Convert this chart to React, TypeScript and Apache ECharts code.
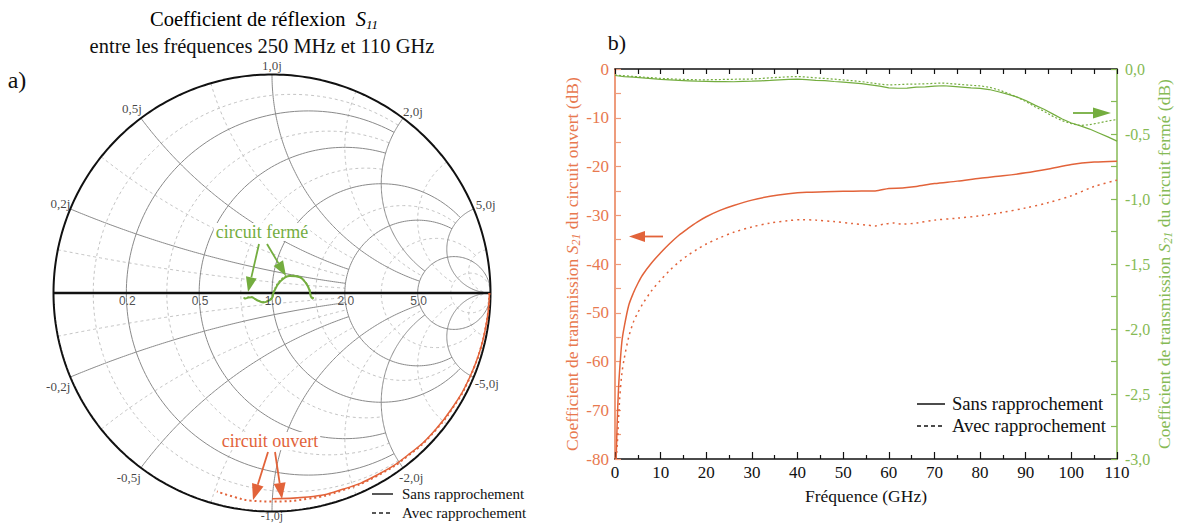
import React, { useEffect, useRef } from 'react';
import * as echarts from 'echarts';

const SERIF = "'Liberation Serif', 'Times New Roman', serif";
const SANS = "'Liberation Sans', Arial, sans-serif";
const ORANGE = '#E2633A';
const ORANGE_LABEL = '#E8794F';
const ORANGE_AXIS = '#EE9C7C';
const GREEN = '#74AD3F';
const GREEN_LABEL = '#86BA55';
const GRID_SOLID = '#8a8a8a';
const GRID_DASH = '#c4c4c4';

// ---------- Smith chart grid values ----------
const R_MAJOR = [0.2, 0.5, 1, 2, 5];
const X_MAJOR = [0.2, 0.5, 1, 2, 5];
const R_MINOR = [0.1, 0.35, 0.75, 1.5, 3, 10];
const X_MINOR = [0.1, 0.35, 0.75, 1.5, 3, 10];
const REAL_LABELS = ['0.2', '0.5', '1.0', '2.0', '5.0'];
const IMAG_LABELS_POS = ['0,2j', '0,5j', '1,0j', '2,0j', '5,0j'];
const IMAG_LABELS_NEG = ['-0,2j', '-0,5j', '-1,0j', '-2,0j', '-5,0j'];

// ---------- Smith chart traces (S11) ----------
// circuit ouvert: polar (angle in degrees, |S11|)
const openSansAngle = [0, -5, -10, -15, -20, -25, -30, -40, -50, -60, -70, -80, -90];
const openSansMag = [0.995, 0.993, 0.99, 0.988, 0.985, 0.983, 0.98, 0.975, 0.968, 0.962, 0.955, 0.948, 0.942];
const openAvecAngle = [0, -5, -10, -15, -20, -25, -30, -40, -50, -60, -70, -80, -90, -96, -100, -105.5];
const openAvecMag = [0.995, 0.993, 0.99, 0.988, 0.986, 0.984, 0.982, 0.977, 0.971, 0.965, 0.959, 0.956, 0.954, 0.955, 0.95, 0.943];
// circuit fermé: real / imaginary parts of S11
const closedSansRe = [-0.127, -0.093, -0.070, -0.040, -0.009, 0.003, 0.006, 0.037, 0.082, 0.128, 0.156, 0.171, 0.178, 0.189];
const closedSansIm = [-0.027, -0.020, -0.032, -0.043, -0.032, -0.017, -0.001, 0.052, 0.078, 0.072, 0.044, 0.014, -0.017, -0.027];
const closedAvecRe = [-0.131, -0.096, -0.072, -0.042, -0.011, 0.001, 0.005, 0.035, 0.080, 0.126, 0.155, 0.172, 0.180, 0.192];
const closedAvecIm = [-0.024, -0.018, -0.030, -0.041, -0.030, -0.015, 0.001, 0.055, 0.081, 0.075, 0.047, 0.016, -0.015, -0.024];

// ---------- S21 chart ----------
const freqOpenSans = [0.25, 0.5, 0.75, 1, 1.5, 2, 3, 4, 5, 6, 8, 10, 12, 14, 16, 18, 20, 23, 26, 30, 34, 38, 42, 46, 50, 54, 57, 60, 63, 66, 70, 75, 80, 85, 90, 95, 100, 105, 110];
const s21OpenSans = [-80, -72, -66, -62, -56, -53, -48.5, -46, -44, -42.3, -39.8, -37.7, -35.8, -34.1, -32.7, -31.4, -30.3, -29.0, -28.0, -26.9, -26.1, -25.6, -25.3, -25.2, -25.1, -25.0, -25.0, -24.5, -24.4, -24.1, -23.5, -23.0, -22.4, -21.9, -21.3, -20.5, -19.6, -19.1, -18.9];
const freqOpenAvec = [0.25, 0.5, 1, 1.5, 2, 3, 4, 5, 6, 8, 10, 12, 14, 16, 18, 20, 23, 26, 30, 34, 38, 41, 44, 48, 52, 55, 57, 59, 61, 63, 66, 70, 75, 80, 85, 90, 95, 100, 105, 110];
const s21OpenAvec = [-80, -77, -68, -62.5, -59.5, -55, -52, -50, -48.3, -45.5, -43.3, -41.3, -39.6, -38.2, -37, -35.9, -34.6, -33.5, -32.4, -31.6, -31.1, -30.9, -31.0, -31.3, -31.7, -32.0, -32.2, -31.8, -31.6, -31.8, -31.6, -31.0, -30.6, -30.1, -29.4, -28.5, -27.4, -26.0, -24.1, -22.8];
const freqClosed = [0, 2, 4, 6, 8, 10, 12, 14, 16, 18, 20, 22, 24, 26, 28, 30, 32, 34, 36, 38, 40, 42, 44, 46, 48, 50, 52, 54, 56, 58, 60, 62, 64, 66, 68, 70, 72, 74, 76, 78, 80, 82, 84, 86, 88, 90, 92, 94, 96, 98, 100, 102, 104, 106, 108, 110];
const s21ClosedSans = [-0.050, -0.058, -0.062, -0.068, -0.074, -0.080, -0.084, -0.088, -0.091, -0.094, -0.095, -0.097, -0.096, -0.098, -0.095, -0.094, -0.091, -0.088, -0.084, -0.080, -0.078, -0.082, -0.087, -0.090, -0.096, -0.101, -0.106, -0.112, -0.122, -0.132, -0.145, -0.148, -0.147, -0.140, -0.137, -0.132, -0.129, -0.134, -0.139, -0.145, -0.149, -0.158, -0.175, -0.193, -0.214, -0.242, -0.278, -0.310, -0.347, -0.385, -0.415, -0.438, -0.462, -0.492, -0.522, -0.555];
const s21ClosedAvec = [-0.046, -0.052, -0.057, -0.062, -0.067, -0.072, -0.076, -0.079, -0.081, -0.083, -0.083, -0.082, -0.080, -0.079, -0.078, -0.077, -0.073, -0.068, -0.064, -0.060, -0.058, -0.062, -0.068, -0.073, -0.078, -0.084, -0.090, -0.097, -0.106, -0.116, -0.123, -0.120, -0.117, -0.116, -0.114, -0.110, -0.108, -0.114, -0.120, -0.125, -0.130, -0.140, -0.160, -0.185, -0.215, -0.250, -0.290, -0.325, -0.365, -0.398, -0.420, -0.435, -0.428, -0.415, -0.400, -0.388];

// ---------- Smith geometry helpers ----------
function gammaOf(r: number, x: number): [number, number] {
  const D = (r + 1) * (r + 1) + x * x;
  return [(r * r - 1 + x * x) / D, (2 * x) / D];
}
function rLimit(r: number) {
  return r < 1 ? 2 : r <= 2 ? 5 : r < 5 ? 10 : Infinity;
}
function xLimit(x: number) {
  const a = Math.abs(x);
  return a < 1 ? 2 : a <= 2 ? 5 : a < 5 ? 10 : Infinity;
}
function rCircle(r: number): number[][] {
  const c = r / (1 + r);
  const rho = 1 / (1 + r);
  const xmax = rLimit(r);
  let phiLim = 0;
  if (isFinite(xmax)) {
    const g = gammaOf(r, xmax);
    phiLim = Math.atan2(g[1], g[0] - c);
  }
  const pts: number[][] = [];
  const N = 160;
  for (let i = 0; i <= N; i++) {
    const phi = phiLim + ((2 * Math.PI - 2 * phiLim) * i) / N;
    pts.push([c + rho * Math.cos(phi), rho * Math.sin(phi)]);
  }
  return pts;
}
function xArc(x: number): number[][] {
  const ax = Math.abs(x);
  const sgn = x < 0 ? -1 : 1;
  const cy = 1 / ax;
  const rho = 1 / ax;
  const norm = (a: number) => (a < 0 ? a + 2 * Math.PI : a);
  const g0 = gammaOf(0, ax);
  const p0 = norm(Math.atan2(g0[1] - cy, g0[0] - 1));
  const rmax = xLimit(ax);
  let p1 = 1.5 * Math.PI;
  if (isFinite(rmax)) {
    const g1 = gammaOf(rmax, ax);
    p1 = norm(Math.atan2(g1[1] - cy, g1[0] - 1));
  }
  const pts: number[][] = [];
  const N = 140;
  for (let i = 0; i <= N; i++) {
    const p = p0 + ((p1 - p0) * i) / N;
    pts.push([1 + rho * Math.cos(p), sgn * (cy + rho * Math.sin(p))]);
  }
  return pts;
}

function gridSeries(data: number[][], dashed: boolean) {
  return {
    type: 'line',
    xAxisIndex: 0,
    yAxisIndex: 0,
    data,
    symbol: 'none',
    silent: true,
    clip: false,
    z: 1,
    lineStyle: dashed
      ? { color: GRID_DASH, width: 1, type: [3, 3] }
      : { color: GRID_SOLID, width: 1, type: 'solid' },
  };
}

function arrow(x1: number, y1: number, x2: number, y2: number, color: string, len: number, half: number, lw: number) {
  const dx = x2 - x1;
  const dy = y2 - y1;
  const L = Math.sqrt(dx * dx + dy * dy);
  const ux = dx / L;
  const uy = dy / L;
  const bx = x2 - ux * len;
  const by = y2 - uy * len;
  return [
    { type: 'line', z: 100, shape: { x1, y1, x2: bx, y2: by }, style: { stroke: color, lineWidth: lw } },
    {
      type: 'polygon',
      z: 100,
      shape: { points: [[x2, y2], [bx - uy * half, by + ux * half], [bx + uy * half, by - ux * half]] },
      style: { fill: color },
    },
  ];
}

function buildOption() {
  const series: any[] = [];
  // minor dashed grid
  R_MINOR.forEach((r) => series.push(gridSeries(rCircle(r), true)));
  X_MINOR.forEach((x) => {
    series.push(gridSeries(xArc(x), true));
    series.push(gridSeries(xArc(-x), true));
  });
  // major solid grid
  R_MAJOR.forEach((r) => series.push(gridSeries(rCircle(r), false)));
  X_MAJOR.forEach((x) => {
    series.push(gridSeries(xArc(x), false));
    series.push(gridSeries(xArc(-x), false));
  });
  // outer circle
  const outer: number[][] = [];
  for (let i = 0; i <= 360; i++) {
    const a = (i * Math.PI) / 180;
    outer.push([Math.cos(a), Math.sin(a)]);
  }
  series.push({
    type: 'line', xAxisIndex: 0, yAxisIndex: 0, data: outer, symbol: 'none', silent: true, clip: false, z: 3,
    lineStyle: { color: '#111', width: 2 },
  });
  series.push({
    type: 'line', xAxisIndex: 0, yAxisIndex: 0, data: [[-1, 0], [1, 0]], symbol: 'none', silent: true, clip: false, z: 3,
    lineStyle: { color: '#111', width: 2.5 },
  });

  // Smith traces
  const polar = (ang: number[], mag: number[]) =>
    ang.map((a, i) => [mag[i] * Math.cos((a * Math.PI) / 180), mag[i] * Math.sin((a * Math.PI) / 180)]);
  series.push({
    type: 'line', xAxisIndex: 0, yAxisIndex: 0, data: polar(openAvecAngle, openAvecMag), symbol: 'none', smooth: true, clip: false, z: 5,
    lineStyle: { color: ORANGE, width: 2, type: [2, 3] },
  });
  series.push({
    type: 'line', xAxisIndex: 0, yAxisIndex: 0, data: polar(openSansAngle, openSansMag), symbol: 'none', smooth: true, clip: false, z: 5,
    lineStyle: { color: ORANGE, width: 1.5 },
  });
  series.push({
    type: 'line', xAxisIndex: 0, yAxisIndex: 0, data: closedAvecRe.map((v, i) => [v, closedAvecIm[i]]), symbol: 'none', smooth: 0.4, clip: false, z: 5,
    lineStyle: { color: GREEN, width: 1.5, type: [2, 2] },
  });
  series.push({
    type: 'line', xAxisIndex: 0, yAxisIndex: 0, data: closedSansRe.map((v, i) => [v, closedSansIm[i]]), symbol: 'none', smooth: 0.4, clip: false, z: 5,
    lineStyle: { color: GREEN, width: 2 },
  });

  // Smith labels
  const realLabelData = R_MAJOR.map((r, i) => ({
    value: [(r - 1) / (r + 1), 0],
    label: { formatter: REAL_LABELS[i] },
  }));
  series.push({
    type: 'scatter', xAxisIndex: 0, yAxisIndex: 0, symbolSize: 0, silent: true, z: 6, clip: false,
    data: realLabelData,
    label: {
      show: true, position: 'inside', align: 'center', verticalAlign: 'top', offset: [1, 2],
      fontFamily: SANS, fontSize: 12, color: '#222',
    },
  });
  const posCfg = [
    { align: 'right', va: 'middle', off: [0, -5] },
    { align: 'right', va: 'middle', off: [1, -10] },
    { align: 'center', va: 'bottom', off: [0, -3] },
    { align: 'left', va: 'middle', off: [0, -7] },
    { align: 'left', va: 'middle', off: [2, -4] },
  ];
  const negCfg = [
    { align: 'right', va: 'middle', off: [0, 9] },
    { align: 'right', va: 'middle', off: [0, 10] },
    { align: 'center', va: 'top', off: [0, -1.5] },
    { align: 'left', va: 'middle', off: [-4, 10] },
    { align: 'left', va: 'middle', off: [1, 6] },
  ];
  const edgeData: any[] = [];
  X_MAJOR.forEach((x, i) => {
    const gp = gammaOf(0, x);
    edgeData.push({
      value: gp,
      label: { formatter: IMAG_LABELS_POS[i], align: posCfg[i].align, verticalAlign: posCfg[i].va, offset: posCfg[i].off },
    });
    const gn = gammaOf(0, -x);
    edgeData.push({
      value: gn,
      label: {
        formatter: IMAG_LABELS_NEG[i], align: negCfg[i].align, verticalAlign: negCfg[i].va, offset: negCfg[i].off,
        fontSize: i === 2 ? 12 : 13, lineHeight: i === 2 ? 12 : 15,
      },
    });
  });
  series.push({
    type: 'scatter', xAxisIndex: 0, yAxisIndex: 0, symbolSize: 0, silent: true, z: 6, clip: false,
    data: edgeData,
    label: { show: true, position: 'inside', fontFamily: SERIF, fontSize: 13, color: '#111' },
  });

  // S21 series
  series.push({
    type: 'line', xAxisIndex: 1, yAxisIndex: 1, data: freqOpenAvec.map((f, i) => [f, s21OpenAvec[i]]), symbol: 'none', smooth: 0.3, z: 5,
    lineStyle: { color: ORANGE, width: 1.5, type: [2, 4] },
  });
  series.push({
    type: 'line', xAxisIndex: 1, yAxisIndex: 1, data: freqOpenSans.map((f, i) => [f, s21OpenSans[i]]), symbol: 'none', smooth: 0.3, z: 5,
    lineStyle: { color: ORANGE, width: 1.5 },
  });
  series.push({
    type: 'line', xAxisIndex: 1, yAxisIndex: 2, data: freqClosed.map((f, i) => [f, s21ClosedAvec[i]]), symbol: 'none', z: 5,
    lineStyle: { color: GREEN, width: 1.2, type: [2, 2] },
  });
  series.push({
    type: 'line', xAxisIndex: 1, yAxisIndex: 2, data: freqClosed.map((f, i) => [f, s21ClosedSans[i]]), symbol: 'none', z: 5,
    lineStyle: { color: GREEN, width: 1.2 },
  });

  const txt = (x: number, y: number, text: string, size: number, color: string, align = 'center', extra: any = {}) => ({
    type: 'text', z: 100, x, y,
    style: { text, fontFamily: SERIF, fontSize: size, fill: color, align, verticalAlign: 'middle', ...extra },
  });

  const graphics: any[] = [
    {
      type: 'text', z: 100, x: 264, y: 19,
      style: {
        text: '{t|Coefficient de réflexion  }{s|S}{sub|11}',
        align: 'center', verticalAlign: 'middle',
        rich: {
          t: { fontFamily: SERIF, fontSize: 20.5, color: '#111' },
          s: { fontFamily: SERIF, fontSize: 20.5, fontStyle: 'italic', color: '#111' },
          sub: { fontFamily: SERIF, fontSize: 13, fontStyle: 'italic', color: '#111', padding: [10, 0, 0, 0] },
        },
      },
    },
    txt(262, 46, 'entre les fréquences 250 MHz et 110 GHz', 20.5, '#111'),
    txt(17, 80, 'a)', 24, '#111'),
    txt(617, 42, 'b)', 22, '#111'),
    txt(262, 232, 'circuit fermé', 18, GREEN, 'center', { backgroundColor: '#fff', padding: [0, 2] }),
    txt(270, 441, 'circuit ouvert', 18, ORANGE, 'center', { backgroundColor: '#fff', padding: [0, 2] }),
    ...arrow(259, 244, 248, 292, GREEN, 15, 5.5, 1.8),
    ...arrow(267, 244, 286, 276, GREEN, 15, 5.5, 1.8),
    ...arrow(268, 452, 253, 500, ORANGE, 16, 6, 1.8),
    ...arrow(275, 452, 282, 499, ORANGE, 16, 6, 1.8),
    ...arrow(663, 236.5, 629, 236.5, ORANGE, 16, 5.5, 1.8),
    ...arrow(1073, 113, 1111, 113, GREEN, 18, 5.5, 1.8),
    // smith legend
    { type: 'line', z: 100, shape: { x1: 372, y1: 494, x2: 393, y2: 494 }, style: { stroke: '#222', lineWidth: 1.5 } },
    { type: 'line', z: 100, shape: { x1: 372, y1: 513, x2: 393, y2: 513 }, style: { stroke: '#222', lineWidth: 1.5, lineDash: [4, 3] } },
    txt(402, 494, 'Sans rapprochement', 15, '#111', 'left'),
    txt(402, 513, 'Avec rapprochement', 15, '#111', 'left'),
    // S21 legend
    { type: 'line', z: 100, shape: { x1: 917, y1: 404, x2: 945, y2: 404 }, style: { stroke: '#111', lineWidth: 1.5 } },
    { type: 'line', z: 100, shape: { x1: 917, y1: 426, x2: 945, y2: 426 }, style: { stroke: '#111', lineWidth: 1.5, lineDash: [4, 3] } },
    txt(952, 403, 'Sans rapprochement', 18.6, '#111', 'left'),
    txt(952, 425, 'Avec rapprochement', 18.6, '#111', 'left'),
  ];

  const sub = (color: string) => ({
    t: { fontFamily: SERIF, fontSize: 17.5, color },
    s: { fontFamily: SERIF, fontSize: 17.5, fontStyle: 'italic', color },
    sub: { fontFamily: SERIF, fontSize: 12, fontStyle: 'italic', color, padding: [8, 0, 0, 0] },
  });

  return {
    animation: false,
    backgroundColor: '#ffffff',
    grid: [
      { left: 53.5, top: 74.5, width: 437, height: 437 },
      { left: 615, top: 69, width: 502, height: 390 },
    ],
    xAxis: [
      { gridIndex: 0, type: 'value', min: -1, max: 1, show: false },
      {
        gridIndex: 1, type: 'value', min: 0, max: 110, interval: 10, position: 'bottom',
        axisLine: { show: true, onZero: false, lineStyle: { color: '#111', width: 1.5 } },
        axisTick: { show: true, inside: true, length: 7, lineStyle: { color: '#111', width: 1.2 } },
        minorTick: { show: true, splitNumber: 2, length: 4, lineStyle: { color: '#111', width: 1.2 } },
        axisLabel: { fontFamily: SERIF, fontSize: 17, color: '#111', margin: 5 },
        splitLine: { show: false },
        name: 'Fréquence (GHz)', nameLocation: 'middle', nameGap: 28,
        nameTextStyle: { fontFamily: SERIF, fontSize: 17.5, color: '#111' },
      },
      {
        gridIndex: 1, type: 'value', min: 0, max: 110, interval: 5, position: 'top',
        axisLine: { show: true, onZero: false, lineStyle: { color: '#111', width: 1.5 } },
        axisTick: { show: true, inside: true, length: 5, lineStyle: { color: '#111', width: 1.2 } },
        axisLabel: { show: false },
        splitLine: { show: false },
      },
    ],
    yAxis: [
      { gridIndex: 0, type: 'value', min: -1, max: 1, show: false },
      {
        gridIndex: 1, type: 'value', min: -80, max: 0, interval: 10, position: 'left',
        axisLine: { show: true, onZero: false, lineStyle: { color: ORANGE_AXIS, width: 2 } },
        axisTick: { show: true, inside: true, length: 6, lineStyle: { color: ORANGE_AXIS, width: 1.2 } },
        minorTick: { show: true, splitNumber: 2, length: 6, lineStyle: { color: ORANGE_AXIS, width: 1.2 } },
        axisLabel: { fontFamily: SERIF, fontSize: 17, color: ORANGE_LABEL, margin: 6 },
        splitLine: { show: false },
        name: '{t|Coefficient de transmission }{s|S}{sub|21}{t| du circuit ouvert (dB)}',
        nameLocation: 'middle', nameGap: 30, nameRotate: 90,
        nameTextStyle: { fontFamily: SERIF, fontSize: 17.5, color: ORANGE_LABEL, rich: sub(ORANGE_LABEL) },
      },
      {
        gridIndex: 1, type: 'value', min: -3, max: 0, interval: 0.5, position: 'right',
        axisLine: { show: true, onZero: false, lineStyle: { color: GREEN_LABEL, width: 1.5 } },
        axisTick: { show: true, inside: true, length: 6, lineStyle: { color: GREEN_LABEL, width: 1.2 } },
        minorTick: { show: true, splitNumber: 2, length: 6, lineStyle: { color: GREEN_LABEL, width: 1.2 } },
        axisLabel: {
          fontFamily: SERIF, fontSize: 16, color: GREEN_LABEL, margin: 8,
          formatter: (v: number) => v.toFixed(1).replace('.', ','),
        },
        splitLine: { show: false },
        name: '{t|Coefficient de transmission }{s|S}{sub|21}{t| du circuit fermé (dB)}',
        nameLocation: 'middle', nameGap: 37, nameRotate: 90,
        nameTextStyle: { fontFamily: SERIF, fontSize: 17.5, color: GREEN_LABEL, rich: sub(GREEN_LABEL) },
      },
    ],
    series,
    graphic: { elements: graphics },
  };
}

export default function App() {
  const ref = useRef<HTMLDivElement>(null);
  useEffect(() => {
    if (!ref.current) return;
    const chart = echarts.init(ref.current, undefined, { renderer: 'svg' });
    chart.setOption(buildOption() as any);
    return () => chart.dispose();
  }, []);
  return (
    <div
      ref={ref}
      style={{ position: 'absolute', left: 0, top: 0, width: 1177, height: 524, background: '#fff' }}
    />
  );
}
